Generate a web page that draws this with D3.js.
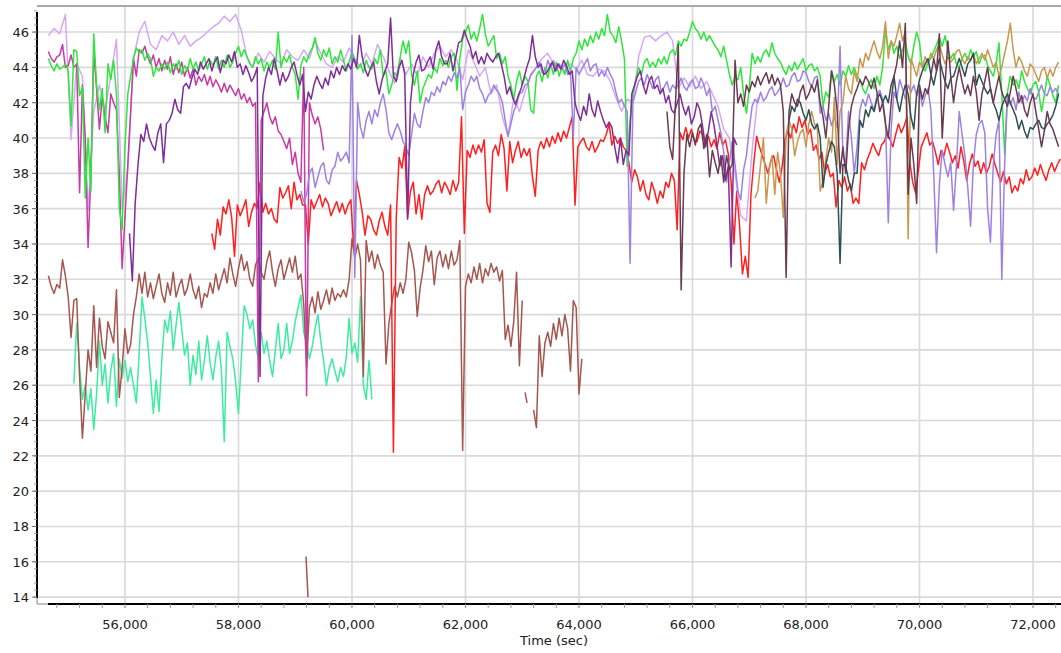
<!DOCTYPE html>
<html><head><meta charset="utf-8">
<script src="https://cdn.jsdelivr.net/npm/d3@7"></script>
<style>
body{margin:0;background:#fff}
svg{display:block;font-family:"DejaVu Sans",Verdana,sans-serif}
</style>
</head><body>
<svg id="chart" width="1061" height="653"></svg>
<script>
// ---------- data ----------
const xTickValues = [56000,58000,60000,62000,64000,66000,68000,70000,72000];
const yTickValues = [14,16,18,20,22,24,26,28,30,32,34,36,38,40,42,44,46];
const xAxisTitle = "Time (sec)";

const plumStart = 54650, plumStep = 100;
const plumVals = [45.8,46.2,45.9,47.0,39.9,44.2,43.5,35.9,41.5,43.0,
41.6,43.5,45.6,36.0,38.2,44.5,46.0,46.6,45.3,45.0,
45.8,45.5,46.0,45.3,45.8,45.2,45.5,45.7,46.0,46.3,
46.5,46.9,46.6,47.0,46.1,44.6,44.0,44.8,44.3,44.9,
44.5,44.2,45.0,44.6,44.4,45.0,44.5,45.5,44.8,44.2,
44.0,44.6,44.3,45.1,44.5,44.0,44.8,44.2,45.3,44.6,
43.8,43.1,44.5,43.6,44.2,43.5,44.6,44.0,44.8,45.2,
44.6,45.0,44.4,43.3,45.0,44.3,43.5,44.0,42.5,43.0,
41.2,40.1,42.3,41.5,42.6,43.5,44.0,44.5,44.8,44.2,
44.0,43.8,44.2,43.9,44.4,43.6,43.5,43.9,43.8,43.2,
42.3,41.5,42.2,42.0,44.6,45.7,45.8,45.5,45.8,46.0,
45.5,42.8,43.4,42.9,43.5,42.8,43.2,42.5,41.8,40.5,
40.0,38.0,35.6,35.3,39.3,42.3];

const greenStart = 54650, greenStep = 50;
const greenVals = [44.5,44.1,43.8,44.2,43.9,44.0,44.2,43.8,40.7,45.0,
44.9,42.4,42.9,36.6,40.0,37.0,45.9,43.0,41.6,42.8,
40.3,44.2,43.3,44.4,42.5,36.0,34.8,39.5,42.5,43.5,
44.5,45.1,44.8,45.0,44.4,44.8,44.5,43.5,44.0,43.8,
44.2,43.9,44.3,43.7,44.2,43.9,44.4,43.6,44.1,43.8,
44.5,43.9,44.3,43.8,44.2,44.6,43.9,44.4,44.1,44.6,
43.9,44.4,44.0,44.7,44.0,44.3,44.8,45.2,44.6,45.0,
44.6,44.2,44.0,44.6,44.2,44.5,43.8,44.3,44.0,44.4,
43.9,46.0,44.0,44.6,44.3,44.7,44.0,43.6,42.2,44.1,
44.6,44.3,44.8,45.1,45.7,44.8,44.4,45.0,44.6,45.1,
44.2,44.6,44.3,45.0,44.4,43.8,44.3,44.9,44.4,43.9,
44.2,43.7,44.4,44.0,43.9,44.5,44.2,45.0,43.5,43.8,
42.5,43.0,43.7,43.5,44.6,45.5,44.8,45.5,43.6,43.0,
43.8,42.0,42.8,43.2,43.6,43.4,44.0,43.7,44.5,44.1,
44.4,44.0,44.6,44.8,42.7,44.5,45.6,46.0,46.4,45.6,
46.0,45.5,46.2,47.0,45.9,45.2,45.5,45.8,44.5,44.8,
44.2,44.6,43.5,43.0,42.2,43.2,43.8,43.0,43.5,43.2,
41.6,41.4,43.5,43.8,43.2,44.0,43.4,44.2,43.6,44.3,
43.5,44.0,43.6,44.4,43.8,44.5,44.8,45.5,45.0,45.6,
45.2,45.8,45.4,46.0,45.6,46.2,45.8,47.0,46.0,45.8,
45.4,46.3,45.5,44.5,38.4,41.0,42.5,43.3,44.0,43.6,
44.3,44.5,44.0,44.3,44.0,44.5,44.2,44.6,44.2,44.8,
45.0,44.7,45.5,45.2,45.6,45.5,46.0,46.6,46.2,46.0,
45.6,46.0,45.5,45.8,45.5,45.2,45.0,44.6,45.2,44.4,
43.6,43.0,43.5,43.3,44.0,42.5,41.4,42.8,44.8,44.2,
44.6,44.3,44.8,45.0,44.6,45.4,44.8,44.5,44.3,43.9,
43.6,44.1,43.8,44.3,43.9,44.2,44.5,43.8,44.1,44.2,
43.8,44.0,43.5,41.8,42.6,42.3,43.8,43.2,43.6,43.0,
43.8,43.5,44.1,43.6,44.0,43.5,43.3,42.8,42.5,43.0,
43.3,42.8,43.5,43.0,44.0,46.1,45.0,45.5,44.8,45.2,
44.5,45.0,45.5,44.6,44.2,45.2,46.0,45.4,44.0,43.8,
44.3,44.5,44.9,45.3,45.7,45.2,45.8,45.0,44.5,44.8,
44.2,44.0,44.5,44.8,44.4,45.0,44.6,44.9,44.2,44.6,
44.7,44.1,43.8,43.5,44.2,45.4,42.5,39.1,42.6,43.5,
43.0,43.3,42.8,43.8,43.2,42.8,42.5,43.0,43.2,42.6,
41.5,42.4,43.5,43.0,42.4,42.0,43.0];

const magentaStart = 54650, magentaStep = 50;
const magentaVals = [44.9,44.5,44.3,44.6,44.7,45.3,44.0,44.1,44.7,44.0,
44.2,36.9,43.0,40.0,33.8,38.0,44.9,42.8,40.5,42.3,
41.2,40.3,42.5,42.0,41.6,38.0,32.6,35.5,38.5,41.5,
44.5,43.5,45.0,44.8,45.2,44.6,44.2,44.7,44.0,44.5,
43.8,44.4,43.9,44.6,43.6,44.2,43.7,44.3,43.5,44.0,
43.4,43.9,43.0,43.5,43.2,43.6,43.0,43.5,42.9,43.3,
43.0,42.6,43.1,42.6,43.0,42.7,42.4,42.8,42.2,42.5,
42.0,42.3,41.8,42.0,26.2,41.0,41.5,42.0,41.2,40.8,
41.2,40.4,40.2,39.8,39.4,40.0,38.5,39.2,38.0,37.5,
44.0,25.4,42.0,41.3,40.8,41.2,40.5,39.3];

const purpleStart = 56080, purpleStep = 50;
const purpleVals = [34.6,31.9,36.3,38.5,40.2,39.8,40.8,40.0,39.6,39.3,
40.3,40.8,38.6,40.8,41.0,41.4,42.2,41.6,41.4,42.9,
43.1,42.8,43.4,43.9,43.6,44.3,43.9,44.2,44.5,43.8,
44.3,44.6,43.7,44.4,44.2,44.7,44.3,44.9,44.0,44.2,
43.6,44.1,43.7,43.2,43.5,44.0,26.5,42.4,43.4,44.0,
43.6,44.5,43.8,43.0,43.7,43.2,43.5,44.0,44.3,43.6,
43.0,43.6,41.5,42.6,42.2,43.0,43.5,43.1,42.8,43.4,
43.0,43.8,43.4,44.0,43.6,44.1,43.8,44.2,43.9,44.5,
44.0,45.8,44.6,43.9,43.5,44.0,44.3,43.2,42.5,43.3,
43.8,44.2,46.8,43.5,43.2,44.0,44.4,43.6,35.4,42.0,
43.6,44.3,44.7,43.8,43.9,44.3,44.6,43.9,45.0,45.5,
44.6,44.2,44.2,44.8,43.8,44.6,45.4,45.5,46.1,45.6,
45.2,44.5,44.9,44.2,44.6,44.2,44.8,44.5,44.3,44.6,
44.8,44.2,43.5,42.5,42.9,42.3,41.9,42.4,42.8,43.4,
44.0,44.5,45.8,44.6,44.0,44.2,43.6,43.7,44.0,44.3,
43.8,44.2,43.9,44.4,44.1,43.6,43.8,42.0,41.4,41.0,
41.8,41.3,42.5,41.6,41.2,42.1,41.5,41.0,40.6,40.9,
40.6,39.5,38.6,40.0,38.5,39.3,39.0,42.5,43.0,43.5,
43.8,43.0,42.5,43.2,43.5,42.8,43.0,42.5,42.8,42.0,
42.4,41.6,41.4,42.0,42.5,41.8,41.3,41.8,40.8,41.2,
42.0,41.6,40.6,39.5,40.4,41.5,40.7,39.6,38.4,39.0,
37.6,38.4,32.7,40.0,39.6];

const lavenderStart = 59100, lavenderStep = 50;
const lavenderVals = [37.0,36.4,36.8,38.0,38.3,37.2,37.8,38.4,38.6,37.6,
37.4,38.2,38.4,39.2,38.7,38.9,39.2,38.6,45.8,32.1,
42.0,40.6,40.0,41.0,41.5,40.8,41.6,41.2,42.0,42.5,
41.6,40.3,39.9,40.4,40.8,40.4,39.8,39.5,39.0,40.2,
41.4,40.8,40.6,41.5,42.3,42.0,42.6,42.4,42.9,42.6,
43.2,43.0,43.5,43.2,43.7,43.4,44.0,41.6,42.6,43.0,
43.5,43.2,43.5,42.8,42.5,42.0,42.4,42.6,43.0,42.7,
42.5,42.0,41.0,40.1,40.8,41.5,41.9,42.5,42.6,43.0,
43.1,43.6,43.8,44.0,44.3,43.7,43.6,44.4,44.0,44.4,
43.8,44.2,43.9,44.2,43.6,43.8,40.1,44.0,43.6,43.9,
44.2,44.5,43.8,44.1,44.2,43.5,43.8,43.5,44.0,43.6,
43.3,42.6,42.0,42.2,41.8,41.5,32.9,42.0,42.6,43.2,
43.4,43.0,43.6,43.2,42.8,43.3,43.5,42.6,42.9,43.2,
42.6,43.0,42.8,43.0,43.4,42.9,42.7,43.1,43.3,42.8,
42.9,43.4,43.0,42.4,42.8,41.5,41.8,41.0,40.3,39.2,
37.5,38.6,39.8,38.5,37.0,36.5,38.2,39.0,40.5,41.8,
42.2,42.0,42.6,42.1,42.3,42.7,42.9,42.4,42.6,42.9,
43.4,42.9,43.0,43.5,43.7,43.2,43.3,43.8,43.7,43.2,
42.9,43.4,43.5,41.4,41.8,41.0,41.4,40.7,41.2,40.6,
45.2,39.0,38.6,41.5,40.0,38.0,39.5,41.6,42.2,41.8,
42.5,42.0,41.6,42.4,42.7,42.2,41.0,35.2,40.5,42.6,
42.2,43.3,42.8,42.2,43.0,42.6,43.0,42.4,42.8,41.8,
42.4,42.8,41.6,38.0,33.5,37.4,39.3,38.5,37.8,38.6,
35.9,38.4,41.5,40.2,39.0,37.2,35.0,38.6,40.2,40.8,
41.0,40.3,36.0,34.1,38.5,40.2,41.0,32.0,38.5,42.5,
41.9,42.3,41.6,42.6,42.0,42.4,42.1,42.8,42.3,42.2,
42.6,43.0,42.5,42.4,42.9,42.6,42.8,42.5];

const redStart = 57530, redStep = 50;
const redVals = [34.6,33.7,35.4,34.5,36.1,35.7,36.5,35.5,33.3,36.2,
35.6,36.0,36.5,35.0,35.8,36.3,36.0,37.5,35.8,36.3,
35.7,36.0,35.4,35.2,37.2,36.6,36.9,37.3,36.0,37.5,
36.5,36.8,36.2,36.2,34.0,36.5,36.0,36.4,36.8,36.1,
36.6,36.3,35.6,36.0,36.4,35.8,36.3,35.7,36.2,36.5,
33.8,37.6,36.8,35.8,34.5,35.6,35.4,34.8,34.5,35.3,
35.8,35.0,34.5,36.2,22.2,35.5,38.9,38.3,39.5,35.5,
37.0,37.5,35.7,36.8,35.4,36.8,37.3,36.8,37.0,37.4,
37.6,36.9,37.5,37.2,36.8,37.6,37.0,37.5,41.2,34.6,
39.3,38.9,39.6,39.1,39.6,39.2,39.9,36.3,35.8,39.2,
39.6,39.0,40.2,39.4,37.0,39.8,38.6,39.3,39.8,38.9,
39.4,39.0,39.4,37.8,36.7,39.3,39.8,39.4,40.0,39.5,
40.1,39.7,40.3,39.8,40.4,40.0,40.6,41.2,36.2,39.5,
39.8,40.0,39.5,39.3,39.8,39.2,39.5,39.9,39.8,40.2,
40.8,39.6,40.1,39.7,40.0,39.5,39.3,38.6,37.5,38.2,
37.8,37.0,37.6,36.8,36.5,37.5,37.0,36.3,37.0,36.6,
37.5,37.2,38.0,37.6,34.8,40.3,39.9,40.6,40.0,40.5,
39.9,39.8,40.4,40.2,39.6,40.1,39.5,39.9,39.4,40.3,
39.6,39.9,39.1,37.5,34.0,37.0,35.0,32.3,33.3,32.1,
36.8,38.6,40.1,39.5,39.0,38.5,38.0,38.7,39.0,38.2,
37.5,38.4,39.9,40.4,40.0,40.8,40.3,41.2,40.6,41.0,
40.2,40.5,39.3,39.6,38.8,39.2,38.0,38.5,37.8,38.0,
36.1,37.6,37.2,37.8,37.0,37.4,36.3,36.6,36.3,38.6,
38.2,38.8,39.2,39.7,39.3,39.0,39.6,39.8,40.3,39.9,
39.5,40.2,40.8,40.3,40.7,41.2,38.6,37.5,36.9,38.2,
39.5,39.9,40.3,39.6,39.8,39.2,38.5,39.3,39.0,39.7,
39.2,38.6,39.0,38.3,39.5,38.7,37.6,38.5,39.1,38.4,
38.7,38.0,38.6,38.0,38.4,39.1,38.5,38.0,37.5,38.1,
37.4,37.8,36.9,37.3,37.0,37.7,37.4,38.2,37.6,37.8,
38.3,37.9,38.5,38.0,37.6,38.2,38.6,38.1,38.5,38.8];

const brownStart = 54650, brownStep = 50;
const brownVals = [32.2,31.6,31.2,31.7,31.5,33.1,32.2,31.0,28.7,30.8,
30.9,26.5,23.0,25.5,28.0,26.8,30.5,27.0,29.8,28.2,
27.5,29.6,29.0,28.4,31.4,25.3,27.0,29.2,27.8,28.3,
30.0,31.0,32.3,31.2,32.4,31.0,31.8,30.9,31.6,32.3,
31.2,30.7,31.8,31.1,32.4,31.0,31.6,32.0,31.1,31.5,
32.3,31.4,30.9,31.6,30.4,31.2,31.0,31.8,31.2,32.3,
31.4,32.0,32.6,31.8,33.2,32.3,31.6,32.6,33.4,32.5,
33.0,32.0,31.6,32.8,33.2,32.4,32.0,33.0,33.6,32.4,
31.6,32.6,33.1,32.0,32.6,33.2,32.4,33.3,32.0,32.3,
30.6,27.0,30.4,31.0,30.1,31.3,30.3,30.8,31.4,30.6,
31.5,30.8,31.2,31.0,31.4,31.0,32.0,34.3,33.2,34.0,
33.1,26.5,34.2,33.0,33.6,32.6,33.4,32.8,32.4,27.2,
29.5,30.6,31.6,31.0,31.8,31.2,32.0,34.1,33.5,32.5,
29.9,31.5,32.5,33.9,33.0,33.6,31.7,33.2,33.6,32.7,
33.4,32.6,33.6,32.8,33.1,34.2,22.3,31.6,32.3,31.8,
32.7,32.0,32.9,31.8,32.6,32.2,32.9,32.4,32.7,31.9,
32.5,28.6,29.4,28.2,29.6,32.4,27.1,30.8,null,null,
null,24.6,23.6,28.8,26.5,28.4,29.0,28.2,29.5,28.6,
29.8,28.8,30.0,29.2,26.8,30.8,30.4,25.5,27.5];
// short isolated brown pieces: [time, value]
const brownPieceA = [[59190,16.3],[59225,14.0]];
const brownPieceB = [[63050,25.6],[63085,25.0]];

const aquaStart = 55100, aquaStep = 50;
const aquaVals = [26.1,29.5,27.0,25.2,26.0,24.6,25.8,23.5,25.5,28.5,
26.0,27.2,25.0,26.8,27.8,24.8,27.5,26.4,27.4,26.2,
27.0,26.0,25.0,27.8,31.0,29.8,28.4,26.5,24.4,26.3,
24.5,27.5,29.7,29.0,30.2,28.0,29.4,30.7,29.2,27.7,
28.4,26.0,27.7,26.6,28.5,26.3,27.4,28.8,27.3,26.3,
27.6,28.5,26.8,22.8,29.0,28.2,27.5,26.2,24.4,27.5,
30.5,30.0,29.2,29.7,28.3,27.5,29.0,27.8,28.5,27.4,
26.5,28.0,29.5,27.5,28.0,29.5,27.8,28.5,29.6,30.4,
31.1,29.0,28.4,27.5,28.2,29.2,30.0,28.5,27.4,26.0,
27.0,27.5,26.8,26.2,27.0,26.5,27.6,29.8,27.8,28.4,
27.3,31.0,26.0,25.2,27.4,25.2];

const maroonStart = 65550, maroonStep = 50;
const maroonVals = [41.5,39.5,38.8,42.0,45.3,31.4,38.0,40.2,39.5,40.3,
39.6,40.5,40.8,39.4,40.2,37.8,39.3,38.6,38.0,39.0,
37.5,39.0,38.2,38.5,44.4,42.0,42.5,41.8,43.0,42.6,
43.2,42.9,43.5,43.0,43.4,43.7,43.1,43.6,43.0,43.4,
43.0,41.5,32.1,41.5,42.5,42.0,41.8,42.6,43.0,42.2,
42.5,43.0,42.6,43.3,42.0,41.2,40.0,41.8,43.8,43.0,
41.5,38.0,39.5,38.0,40.5,41.8,42.4,42.8,43.3,43.0,
43.5,43.2,42.8,43.4,42.6,41.5,42.0,40.8,40.0,42.0,
43.5,44.2,45.5,44.0,46.5,36.8,40.0,38.5,36.3,43.0,
42.2,42.8,42.5,43.5,44.5,43.8,45.9,40.0,43.0,45.5,
43.5,42.0,43.2,44.0,43.2,42.5,43.0,42.4,43.5,42.6,
41.0,42.5,43.2,44.0,42.8,42.0,42.8,43.5,42.6,42.2,
41.8,42.6,43.5,42.8,42.0,42.4,41.6,41.2,42.0,42.5,
41.5,40.5,39.5,40.4,41.5,40.8,40.5,40.0,39.5];

const tanStart = 67100, tanStep = 50;
const tanVals = [36.6,37.0,38.5,40.0,36.3,38.2,39.0,36.8,39.2,38.0,
35.5,40.2,41.0,40.5,39.0,39.8,40.3,40.5,39.5,40.8,
41.5,40.8,40.5,37.0,37.6,38.8,40.0,39.2,42.3,38.5,
41.5,42.0,43.5,42.8,42.5,43.8,43.2,44.5,44.0,44.8,
44.4,45.0,45.5,44.9,44.5,45.2,46.6,44.5,45.5,45.2,
45.8,46.5,45.5,46.0,34.3,44.5,44.0,43.5,44.3,44.0,
44.6,44.2,44.8,44.5,45.0,45.3,44.7,44.2,44.6,44.3,
44.5,44.9,45.0,44.5,44.2,44.6,44.4,44.8,44.2,44.5,
44.8,44.4,45.0,44.5,44.0,44.3,43.5,44.0,44.8,45.5,
46.5,45.0,44.0,44.6,44.3,43.8,43.5,44.2,44.0,43.6,
43.2,43.8,44.0,43.4,43.9,43.5,44.0,44.3];

const slateStart = 67700, slateStep = 50;
const slateVals = [41.0,41.8,41.5,42.2,42.0,41.4,41.0,41.6,40.8,40.5,
40.8,40.0,37.2,38.5,39.2,39.8,39.5,38.0,32.9,38.5,
38.4,37.6,37.0,38.0,38.0,41.0,40.6,41.6,41.2,41.8,
41.5,42.2,42.5,42.0,42.4,42.0,43.0,43.5,42.2,41.5,
42.4,43.0,42.5,41.2,40.5,42.5,43.3,43.8,44.2,44.5,
43.6,43.0,43.8,44.5,43.8,43.2,42.8,43.4,43.5,44.0,
44.5,44.0,43.5,44.2,44.4,44.8,43.0,43.6,43.2,42.8,
42.5,42.8,42.0,41.6,41.0,41.8,42.2,42.5,42.0,41.6,
41.2,40.5,41.0,40.4,40.0,40.6,40.5,40.8,41.0,40.6,
40.5,40.8,41.0,41.3,41.8,42.5];

// ---------- build ----------
function toPoints(start, step, vals){ return vals.map((v,i)=>[start + i*step, v]); }

const series = [
  {key:"aqua", pts: toPoints(aquaStart, aquaStep, aquaVals)},
  {key:"brown", pts: toPoints(brownStart, brownStep, brownVals)},
  {key:"brown", pts: brownPieceA},
  {key:"brown", pts: brownPieceB},
  {key:"red", pts: toPoints(redStart, redStep, redVals)},
  {key:"plum", pts: toPoints(plumStart, plumStep, plumVals)},
  {key:"magenta", pts: toPoints(magentaStart, magentaStep, magentaVals)},
  {key:"green", pts: toPoints(greenStart, greenStep, greenVals)},
  {key:"lavender", pts: toPoints(lavenderStart, lavenderStep, lavenderVals)},
  {key:"purple", pts: toPoints(purpleStart, purpleStep, purpleVals)},
  {key:"tan", pts: toPoints(tanStart, tanStep, tanVals)},
  {key:"slate", pts: toPoints(slateStart, slateStep, slateVals)},
  {key:"maroon", pts: toPoints(maroonStart, maroonStep, maroonVals)}
];
const colors = {
  aqua:"#3deca0", brown:"#a4564f", red:"#ff1f1f", plum:"#d6a8f4",
  magenta:"#c63ca4", green:"#2fe63c", lavender:"#9d82e2", purple:"#7e2e96",
  tan:"#c8984e", slate:"#2f4f55", maroon:"#6a3a50"
};

const W = 1061, H = 653;
const pL = 37, pR = 1061, pT = 7, pB = 604;
const x = d3.scaleLinear().domain([54450, 72493]).range([pL, pR]);
const y = d3.scaleLinear().domain([13.61, 47.42]).range([pB, pT]);

const svg = d3.select("#chart");
svg.append("rect").attr("width",W).attr("height",H).attr("fill","#fff");

// grid
const grid = svg.append("g");
grid.selectAll("line.h").data(yTickValues).enter().append("line")
  .attr("x1",pL).attr("x2",pR).attr("y1",d=>y(d)).attr("y2",d=>y(d))
  .attr("stroke","#d9d9d9").attr("stroke-width",1.6);
grid.selectAll("line.v").data(xTickValues).enter().append("line")
  .attr("x1",d=>x(d)).attr("x2",d=>x(d)).attr("y1",pT).attr("y2",pB+4)
  .attr("stroke","#d9d9d9").attr("stroke-width",1.6);

// frame top
svg.append("line").attr("x1",pL).attr("x2",pR).attr("y1",6).attr("y2",6)
  .attr("stroke","#8c8c8c").attr("stroke-width",1.6);

// series
svg.append("clipPath").attr("id","clp").append("rect")
  .attr("x",pL+1).attr("y",pT).attr("width",pR-pL).attr("height",pB-pT-1);
const line = d3.line().defined(d=>d[1]!=null).x(d=>x(d[0])).y(d=>y(d[1]));
const lines = svg.append("g").attr("clip-path","url(#clp)");
series.forEach(s=>{
  lines.append("path").datum(s.pts).attr("d",line)
    .attr("fill","none").attr("stroke",colors[s.key]).attr("stroke-width",1.5)
    .attr("stroke-linejoin","round");
});

// y axis
svg.append("line").attr("x1",pL).attr("x2",pL).attr("y1",12).attr("y2",598)
  .attr("stroke","#000").attr("stroke-width",2);
svg.append("path").attr("d",`M${pL},598V${pB}H48`).attr("fill","none")
  .attr("stroke","#888").attr("stroke-width",1);
const yMinor = d3.range(14, 47.4, 0.4);
svg.selectAll("line.ym").data(yMinor).enter().append("line")
  .attr("x1",pL-3).attr("x2",pL).attr("y1",d=>y(d)).attr("y2",d=>y(d))
  .attr("stroke","#999").attr("stroke-width",1);
svg.selectAll("line.yM").data(yTickValues).enter().append("line")
  .attr("x1",pL-5).attr("x2",pL).attr("y1",d=>y(d)).attr("y2",d=>y(d))
  .attr("stroke","#666").attr("stroke-width",1);
svg.selectAll("text.yl").data(yTickValues).enter().append("text")
  .attr("x",29).attr("y",d=>y(d)+5).attr("text-anchor","end")
  .attr("font-size",13).attr("fill","#222").text(d=>d);

// x axis
svg.append("line").attr("x1",48).attr("x2",pR).attr("y1",pB).attr("y2",pB)
  .attr("stroke","#000").attr("stroke-width",2);
const xMinor = d3.range(54800, 72500, 400);
svg.selectAll("line.xm").data(xMinor).enter().append("line")
  .attr("x1",d=>x(d)).attr("x2",d=>x(d)).attr("y1",pB).attr("y2",pB+4)
  .attr("stroke","#999").attr("stroke-width",1);
const fmt = d3.format(",");
svg.selectAll("text.xl").data(xTickValues).enter().append("text")
  .attr("x",d=>x(d)).attr("y",629).attr("text-anchor","middle")
  .attr("font-size",13).attr("fill","#222").text(d=>fmt(d));
svg.append("text").attr("x",554).attr("y",645).attr("text-anchor","middle")
  .attr("font-size",13).attr("fill","#222").text(xAxisTitle);
</script>
</body></html>
